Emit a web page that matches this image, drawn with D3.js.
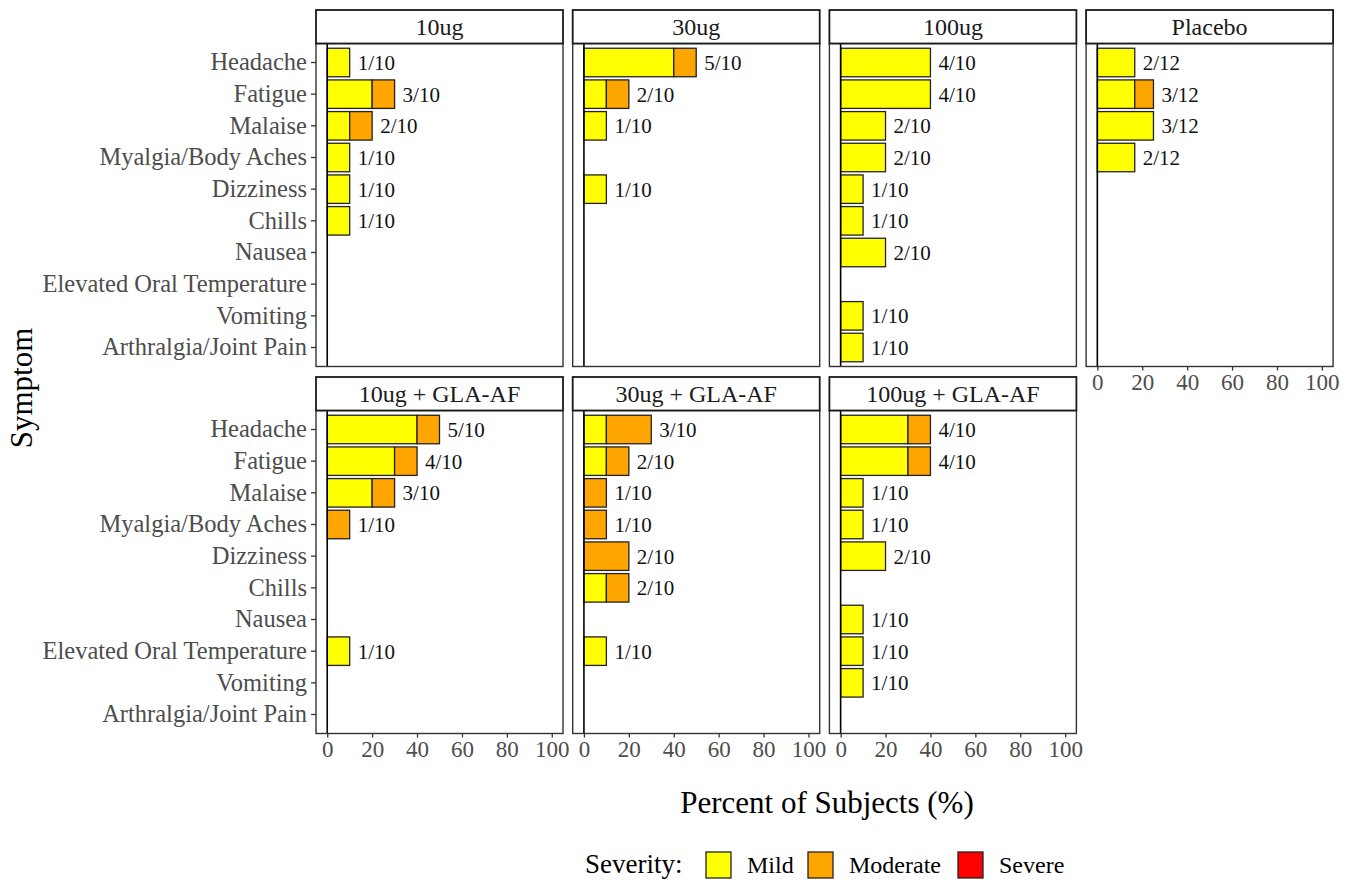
<!DOCTYPE html>
<html>
<head>
<meta charset="utf-8">
<script src="https://cdn.jsdelivr.net/npm/d3@7/dist/d3.min.js"></script>
<style>
  html, body { margin: 0; padding: 0; background: #fff; }
  svg { display: block; font-family: "Liberation Serif", "Times New Roman", serif; }
</style>
</head>
<body>
<svg id="chart" width="1358" height="882"></svg>
<script>
// Symptom categories, top to bottom
const symptoms = [
  "Headache", "Fatigue", "Malaise", "Myalgia/Body Aches", "Dizziness",
  "Chills", "Nausea", "Elevated Oral Temperature", "Vomiting", "Arthralgia/Joint Pain"
];

// Treatment groups (facet order) and subjects per group
const groups = ["10ug", "30ug", "100ug", "Placebo", "10ug + GLA-AF", "30ug + GLA-AF", "100ug + GLA-AF"];
const groupSize = [10, 10, 10, 12, 10, 10, 10];

// Subjects reporting each symptom, by severity (one row per group, same order as symptoms)
const mildCounts = [
  [1, 2, 1, 1, 1, 1, 0, 0, 0, 0],
  [4, 1, 1, 0, 1, 0, 0, 0, 0, 0],
  [4, 4, 2, 2, 1, 1, 2, 0, 1, 1],
  [2, 2, 3, 2, 0, 0, 0, 0, 0, 0],
  [4, 3, 2, 0, 0, 0, 0, 1, 0, 0],
  [1, 1, 0, 0, 0, 1, 0, 1, 0, 0],
  [3, 3, 1, 1, 2, 0, 1, 1, 1, 0]
];
const moderateCounts = [
  [0, 1, 1, 0, 0, 0, 0, 0, 0, 0],
  [1, 1, 0, 0, 0, 0, 0, 0, 0, 0],
  [0, 0, 0, 0, 0, 0, 0, 0, 0, 0],
  [0, 1, 0, 0, 0, 0, 0, 0, 0, 0],
  [1, 1, 1, 1, 0, 0, 0, 0, 0, 0],
  [2, 1, 1, 1, 2, 1, 0, 0, 0, 0],
  [1, 1, 0, 0, 0, 0, 0, 0, 0, 0]
];
const severeCounts = [
  [0, 0, 0, 0, 0, 0, 0, 0, 0, 0],
  [0, 0, 0, 0, 0, 0, 0, 0, 0, 0],
  [0, 0, 0, 0, 0, 0, 0, 0, 0, 0],
  [0, 0, 0, 0, 0, 0, 0, 0, 0, 0],
  [0, 0, 0, 0, 0, 0, 0, 0, 0, 0],
  [0, 0, 0, 0, 0, 0, 0, 0, 0, 0],
  [0, 0, 0, 0, 0, 0, 0, 0, 0, 0]
];

const severities = ["Mild", "Moderate", "Severe"];
const severityColors = ["#FFFF00", "#FFA500", "#FF0000"];
const xTicks = [0, 20, 40, 60, 80, 100];

// Facet grid layout
const nCols = 4;
const panelLeft = 316, panelW = 247, panelGap = 9.7;
const stripTops = [10, 377];
const stripH = 33.5;
const plotH = 323;

const svg = d3.select("#chart");
svg.append("rect").attr("width", 1358).attr("height", 882).attr("fill", "#fff");

const color = d3.scaleOrdinal().domain(severities).range(severityColors);

groups.forEach((g, gi) => {
  const row = Math.floor(gi / nCols), col = gi % nCols;
  const x0 = panelLeft + col * (panelW + panelGap);
  const stripTop = stripTops[row];
  const plotTop = stripTop + stripH;

  const x = d3.scaleLinear().domain([-5, 105]).range([x0, x0 + panelW]);
  const y = d3.scaleBand().domain(symptoms).range([plotTop, plotTop + plotH])
    .paddingInner(0.1).paddingOuter(0.15);

  const panel = svg.append("g").attr("class", "panel");

  // Build stacked segments from counts
  const rows = symptoms.map((s, si) => {
    const counts = [mildCounts[gi][si], moderateCounts[gi][si], severeCounts[gi][si]];
    let acc = 0;
    const segs = counts.map((c, k) => {
      const p0 = acc / groupSize[gi] * 100;
      acc += c;
      return { symptom: s, severity: severities[k], p0, p1: acc / groupSize[gi] * 100, count: c };
    }).filter(d => d.count > 0);
    return { symptom: s, total: acc, segs };
  });

  // bars
  panel.selectAll("rect.bar")
    .data(rows.flatMap(r => r.segs))
    .join("rect")
    .attr("class", "bar")
    .attr("x", d => x(d.p0))
    .attr("width", d => x(d.p1) - x(d.p0))
    .attr("y", d => y(d.symptom))
    .attr("height", y.bandwidth())
    .attr("fill", d => color(d.severity))
    .attr("stroke", "#222")
    .attr("stroke-width", 1.3);

  // zero reference line
  panel.append("line")
    .attr("x1", x(0)).attr("x2", x(0))
    .attr("y1", plotTop).attr("y2", plotTop + plotH)
    .attr("stroke", "#000").attr("stroke-width", 1.6);

  // count labels
  panel.selectAll("text.lab")
    .data(rows.filter(r => r.total > 0))
    .join("text")
    .attr("class", "lab")
    .attr("x", d => x(d.total / groupSize[gi] * 100) + 8)
    .attr("y", d => y(d.symptom) + y.bandwidth() / 2)
    .attr("dy", "0.35em")
    .attr("font-size", 21)
    .attr("fill", "#111")
    .text(d => `${d.total}/${groupSize[gi]}`);

  // panel border
  panel.append("rect")
    .attr("x", x0).attr("y", plotTop).attr("width", panelW).attr("height", plotH)
    .attr("fill", "none").attr("stroke", "#333").attr("stroke-width", 1.4);

  // strip
  panel.append("rect")
    .attr("x", x0).attr("y", stripTop).attr("width", panelW).attr("height", stripH)
    .attr("fill", "#fff").attr("stroke", "#1a1a1a").attr("stroke-width", 1.8);
  panel.append("text")
    .attr("x", x0 + panelW / 2).attr("y", stripTop + stripH / 2)
    .attr("dy", "0.35em").attr("text-anchor", "middle")
    .attr("font-size", 24).attr("fill", "#1a1a1a")
    .text(g);

  // y axis on first column
  if (col === 0) {
    const ya = svg.append("g").attr("transform", `translate(${x0},0)`)
      .call(d3.axisLeft(y).tickSize(5).tickPadding(4));
    ya.select(".domain").remove();
    ya.selectAll(".tick line").attr("stroke", "#333").attr("stroke-width", 1.3);
    ya.selectAll(".tick text").attr("font-size", 24.5).attr("fill", "#4d4d4d")
      .attr("font-family", "Liberation Serif, Times New Roman, serif");
  }

  // x axis on bottom-most panel of each column
  const isBottom = row === 1 || gi + nCols >= groups.length;
  if (isBottom) {
    const xa = svg.append("g").attr("transform", `translate(0,${plotTop + plotH})`)
      .call(d3.axisBottom(x).tickValues(xTicks).tickSize(4).tickPadding(3));
    xa.select(".domain").remove();
    xa.selectAll(".tick line").attr("stroke", "#333").attr("stroke-width", 1.3);
    xa.selectAll(".tick text").attr("font-size", 23).attr("fill", "#4d4d4d")
      .attr("font-family", "Liberation Serif, Times New Roman, serif");
  }
});

// axis titles
svg.append("text")
  .attr("x", 827).attr("y", 813)
  .attr("text-anchor", "middle").attr("font-size", 31).attr("fill", "#000")
  .text("Percent of Subjects (%)");

svg.append("text")
  .attr("transform", "translate(32,388) rotate(-90)")
  .attr("text-anchor", "middle").attr("font-size", 31).attr("fill", "#000")
  .text("Symptom");

// legend
const legend = svg.append("g").attr("class", "legend");
legend.append("text")
  .attr("x", 585).attr("y", 873).attr("font-size", 27).attr("fill", "#000")
  .text("Severity:");
const keyX = [706, 808, 958];
severities.forEach((s, i) => {
  legend.append("rect")
    .attr("x", keyX[i]).attr("y", 852).attr("width", 25).attr("height", 26)
    .attr("fill", color(s)).attr("stroke", "#222").attr("stroke-width", 1.3);
  legend.append("text")
    .attr("x", keyX[i] + 41).attr("y", 873).attr("font-size", 24).attr("fill", "#000")
    .text(s);
});
</script>
</body>
</html>
